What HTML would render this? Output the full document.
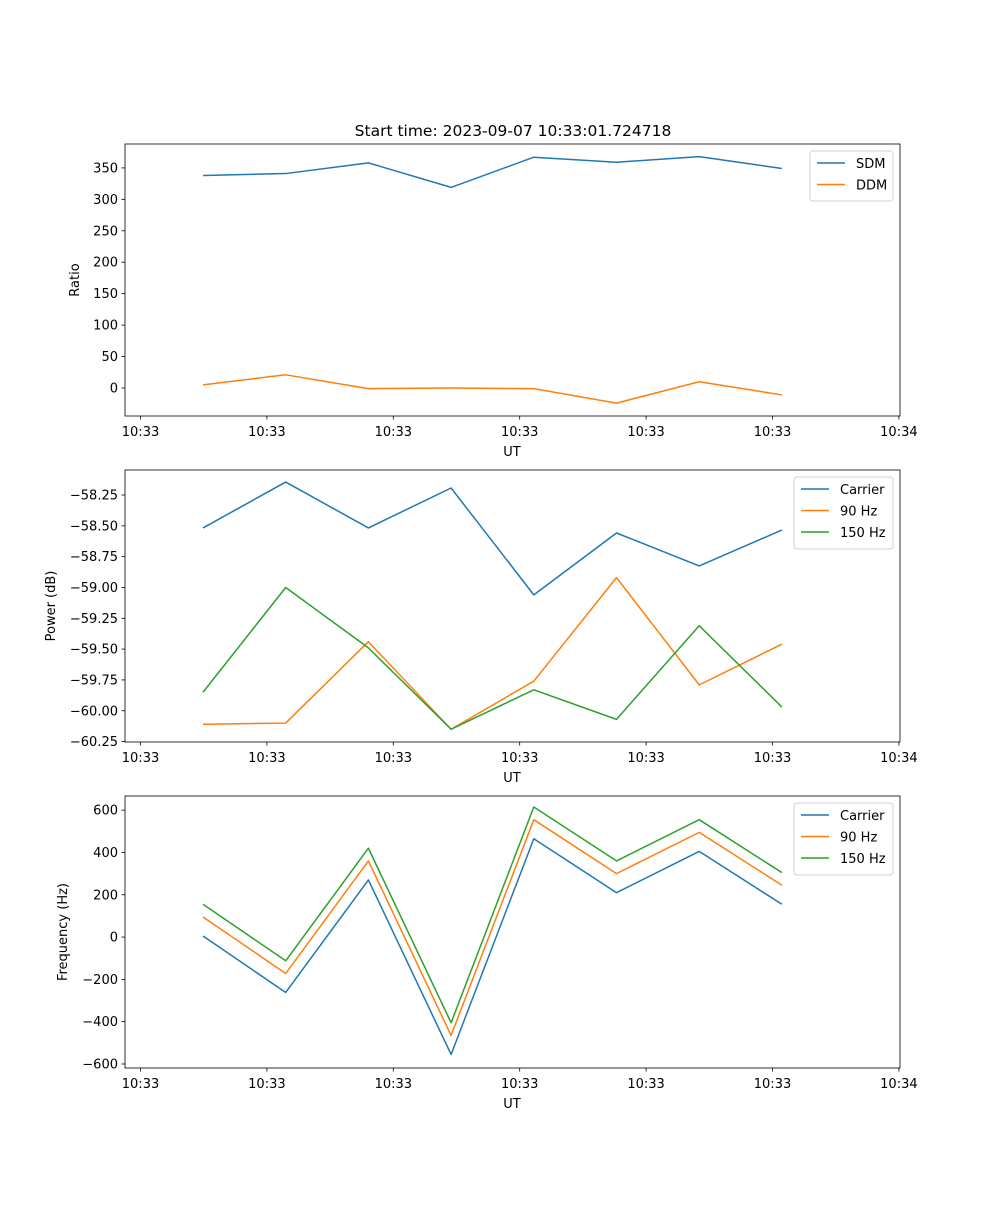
<!DOCTYPE html>
<html><head><meta charset="utf-8"><style>
body{margin:0;background:#fff}
svg text{font-family:"DejaVu Sans","Liberation Sans",sans-serif;font-size:13px;fill:#000}
</style></head><body>
<svg id="fig" width="1000" height="1200" viewBox="0 0 1000 1200">
<text x="513" y="136" text-anchor="middle" font-size="15.5" style="font-size:15.5px">Start time: 2023-09-07 10:33:01.724718</text>
</svg>
<script>
const xTickLabels=["10:33","10:33","10:33","10:33","10:33","10:33","10:34"];
const pointIdx=[0,1,2,3,4,5,6,7];
const sdm=[338,341,358,319,367,359,368,349];
const ddm=[5,21,-1,0,-1,-24,10,-11];
const pCarrier=[-58.517,-58.145,-58.517,-58.193,-59.06,-58.558,-58.825,-58.534];
const p90=[-60.11,-60.10,-59.44,-60.15,-59.76,-58.92,-59.79,-59.46];
const p150=[-59.85,-59.00,-59.49,-60.15,-59.83,-60.07,-59.31,-59.97];
const fCarrier=[5,-262,270,-555,465,210,405,155];
const f90=[95,-172,360,-465,555,300,495,245];
const f150=[155,-112,420,-405,615,360,555,305];
const ratioTicks=[-0,50,100,150,200,250,300,350];
const powerTicks=[-60.25,-60.00,-59.75,-59.50,-59.25,-59.00,-58.75,-58.50,-58.25];
const freqTicks=[-600,-400,-200,0,200,400,600];

const NS="http://www.w3.org/2000/svg";
const svg=document.getElementById('fig');
const C={b:'#1f77b4',o:'#ff7f0e',g:'#2ca02c'};
function mk(t,a,p){const e=document.createElementNS(NS,t);for(const k in a)e.setAttribute(k,a[k]);(p||svg).appendChild(e);return e;}
const L=125,R=900;
const xScale=i=>203+i*82.7;
const xTickPos=k=>140.5+k*126.4;

function panel(top,bot,yMin,yMax,ticks,fmt,ylabel,lx,series,legend,name){
  const g=mk('g',{});
  
  
  const y=v=>bot-(v-yMin)/(yMax-yMin)*(bot-top);
  ticks.forEach(t=>{
    const yy=y(t);
    const tk=mk('line',{x1:L-3.5,x2:L,y1:yy,y2:yy,stroke:'#000','stroke-width':0.8},g);
    
    
    const tx=mk('text',{x:L-7,y:yy+4.5,'text-anchor':'end'},g);tx.textContent=fmt(t);
    
    
  });
  xTickLabels.forEach((s,k)=>{
    const xx=xTickPos(k);
    const tk=mk('line',{x1:xx,x2:xx,y1:bot,y2:bot+3.5,stroke:'#000','stroke-width':0.8},g);
    
    
    const tx=mk('text',{x:xx,y:bot+20,'text-anchor':'middle'},g);tx.textContent=s;
    
    
  });
  const xl=mk('text',{x:512,y:bot+40,'text-anchor':'middle'},g);xl.textContent='UT';
  
  
  const cy=(top+bot)/2;
  const yl=mk('text',{x:lx,y:cy,'text-anchor':'middle',transform:`rotate(-90 ${lx} ${cy})`},g);yl.textContent=ylabel;
  
  
  series.forEach(s=>{
    const pl=mk('polyline',{points:pointIdx.map(i=>xScale(i)+','+y(s.v[i])).join(' '),fill:'none',stroke:s.c,'stroke-width':1.5,'stroke-linejoin':'round'},g);
    
    
  });
  const fr=mk('rect',{x:L,y:top,width:R-L,height:bot-top,fill:'none',stroke:'#000','stroke-width':0.8},g);
  
  
  const lg=mk('g',{},g);
  
  
  mk('rect',{x:legend.x,y:top+7,width:legend.w,height:series.length*22+6,rx:3,fill:'#fff',stroke:'#ccc','stroke-width':1,opacity:0.9},lg);
  series.forEach((s,k)=>{
    const yy=top+19+k*21.5;
    const ln=mk('line',{x1:legend.x+7,x2:legend.x+35,y1:yy,y2:yy,stroke:s.c,'stroke-width':1.5},lg);
    
    
    const t=mk('text',{x:legend.x+46,y:yy+5},lg);t.textContent=s.n;
    
    
  });
}
panel(144,416,-44.5,388,ratioTicks,v=>String(v),'Ratio',79,
  [{n:'SDM',v:sdm,c:C.b},{n:'DDM',v:ddm,c:C.o}],{x:810,w:83},'ratio-panel');
panel(470,742,-60.2535,-58.047,powerTicks,v=>(v<0?'\u2212':'')+Math.abs(v).toFixed(2),'Power (dB)',55,
  [{n:'Carrier',v:pCarrier,c:C.b},{n:'90 Hz',v:p90,c:C.o},{n:'150 Hz',v:p150,c:C.g}],{x:794,w:99},'power-panel');
panel(796,1068,-619,667,freqTicks,v=>(v<0?'\u2212':'')+Math.abs(v),'Frequency (Hz)',67,
  [{n:'Carrier',v:fCarrier,c:C.b},{n:'90 Hz',v:f90,c:C.o},{n:'150 Hz',v:f150,c:C.g}],{x:794,w:99},'frequency-panel');
</script>
</body></html>
